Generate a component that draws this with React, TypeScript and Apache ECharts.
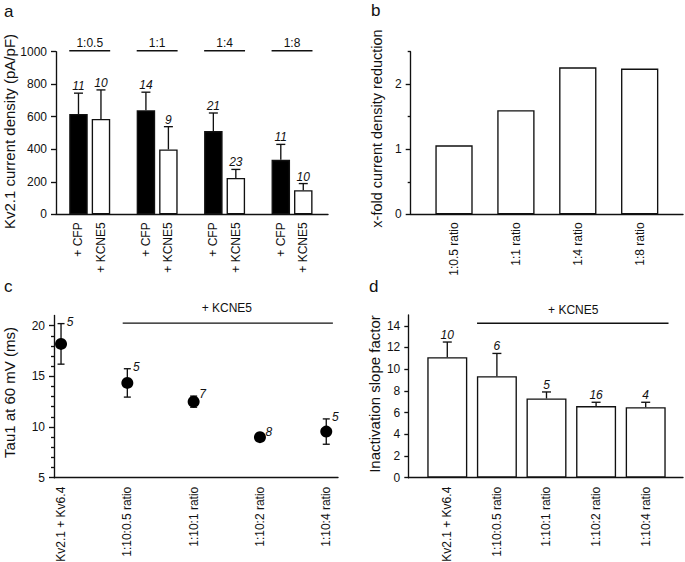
import React, { useEffect, useRef } from "react";
import * as echarts from "echarts";

// ---------- data ----------
// panel a
const groupLabels = ["1:0.5", "1:1", "1:4", "1:8"];
const conditionLabels = ["+ CFP", "+ KCNE5"];
const cfpMean = [617, 640, 512, 335];
const cfpSem = [128, 111, 111, 95];
const cfpN = [11, 14, 21, 11];
const kcneMean = [586, 399, 224, 148];
const kcneSem = [179, 140, 52, 41];
const kcneN = [10, 9, 23, 10];
const aTicks = [0, 200, 400, 600, 800, 1000];

// panel b
const ratioLabels = ["1:0.5 ratio", "1:1 ratio", "1:4 ratio", "1:8 ratio"];
const foldReduction = [1.06, 1.6, 2.26, 2.24];
const bTicks = [0, 1, 2];
const bMinorTicks = [0.5, 1.5, 2.5];

// panels c and d
const cdLabels = ["Kv2.1 + Kv6.4", "1:10:0.5 ratio", "1:10:1 ratio", "1:10:2 ratio", "1:10:4 ratio"];
const tauMean = [18.2, 14.35, 12.5, 9.0, 9.55];
const tauSem = [2.0, 1.4, 0.55, 0.3, 1.25];
const tauN = [5, 5, 7, 8, 5];
const cTicks = [5, 10, 15, 20];
const cMinorTicks = [6, 7, 8, 9, 11, 12, 13, 14, 16, 17, 18, 19];

const slopeMean = [11.1, 9.35, 7.3, 6.6, 6.5];
const slopeSem = [1.4, 2.1, 0.6, 0.35, 0.45];
const slopeN = [10, 6, 5, 16, 4];
const dTicks = [0, 2, 4, 6, 8, 10, 12, 14];

const annotationText = "+ KCNE5";

// ---------- styling ----------
const FONT = "'Liberation Sans', Arial, Helvetica, sans-serif";
const INK = "#111";
const LW = 1.35;

const lineStyle = { stroke: INK, lineWidth: LW };

function upErrorRenderer(capHalf: number) {
  return (params: any, api: any) => {
    const x = api.value(0);
    const y = api.value(1);
    const e = api.value(2);
    const n = api.value(3);
    const p0 = api.coord([x, y]);
    const p1 = api.coord([x, y + e]);
    return {
      type: "group",
      children: [
        { type: "line", shape: { x1: p0[0], y1: p0[1], x2: p1[0], y2: p1[1] }, style: lineStyle },
        { type: "line", shape: { x1: p1[0] - capHalf, y1: p1[1], x2: p1[0] + capHalf, y2: p1[1] }, style: lineStyle },
        {
          type: "text",
          x: p1[0],
          y: p1[1] - 1,
          style: {
            text: String(n),
            align: "center",
            verticalAlign: "bottom",
            fontSize: 12,
            fontStyle: "italic",
            fontFamily: FONT,
            fill: INK,
          },
        },
      ],
    };
  };
}

function bothErrorRenderer(capHalf: number) {
  return (params: any, api: any) => {
    const x = api.value(0);
    const y = api.value(1);
    const e = api.value(2);
    const n = api.value(3);
    const pLo = api.coord([x, y - e]);
    const pHi = api.coord([x, y + e]);
    return {
      type: "group",
      children: [
        { type: "line", shape: { x1: pLo[0], y1: pLo[1], x2: pHi[0], y2: pHi[1] }, style: lineStyle },
        { type: "line", shape: { x1: pHi[0] - capHalf, y1: pHi[1], x2: pHi[0] + capHalf, y2: pHi[1] }, style: lineStyle },
        { type: "line", shape: { x1: pLo[0] - capHalf, y1: pLo[1], x2: pLo[0] + capHalf, y2: pLo[1] }, style: lineStyle },
        {
          type: "text",
          x: pHi[0] + 9,
          y: pHi[1] - 2,
          style: {
            text: String(n),
            align: "center",
            verticalAlign: "middle",
            fontSize: 12,
            fontStyle: "italic",
            fontFamily: FONT,
            fill: INK,
          },
        },
      ],
    };
  };
}

function annotationRenderer(x1: number, x2: number, y: number, textX: number, textDy: number) {
  return (params: any, api: any) => {
    const a = api.coord([x1, y]);
    const b = api.coord([x2, y]);
    const t = api.coord([textX, y]);
    return {
      type: "group",
      children: [
        { type: "line", shape: { x1: a[0], y1: a[1], x2: b[0], y2: b[1] }, style: lineStyle },
        {
          type: "text",
          x: t[0],
          y: t[1] + textDy,
          style: {
            text: annotationText,
            align: "center",
            verticalAlign: "middle",
            fontSize: 12,
            fontFamily: FONT,
            fill: INK,
          },
        },
      ],
    };
  };
}

const yLabel = (margin: number) => ({
  color: INK,
  fontSize: 12,
  fontFamily: FONT,
  margin,
  formatter: (v: number) => String(v),
});
const axisLine = { show: true, onZero: false, lineStyle: { color: INK, width: LW } };
const noLine = { show: false, onZero: false };

function buildOption() {
  // panel a positions: pairs with an empty slot between groups
  const aCfpX = groupLabels.map((_, g) => 3 * g + 1);
  const aKcneX = groupLabels.map((_, g) => 3 * g + 2);
  const aBarData: any[] = [];
  groupLabels.forEach((_, g) => {
    aBarData.push({ value: [aCfpX[g], cfpMean[g]], itemStyle: { color: "#000", borderColor: INK } });
    aBarData.push({ value: [aKcneX[g], kcneMean[g]], itemStyle: { color: "#fff", borderColor: INK } });
  });
  const aErrData: any[] = [];
  groupLabels.forEach((_, g) => {
    aErrData.push([aCfpX[g], cfpMean[g], cfpSem[g], cfpN[g]]);
    aErrData.push([aKcneX[g], kcneMean[g], kcneSem[g], kcneN[g]]);
  });
  const aHalfBar = 0.41;
  const headerData = groupLabels.map((_, g) => [aCfpX[g] - aHalfBar, aKcneX[g] + aHalfBar, aTicks[aTicks.length - 1], g]);

  const bX = ratioLabels.map((_, i) => i + 1);
  const cdX = cdLabels.map((_, i) => i);

  const xBase = {
    type: "value",
    axisLine,
    axisTick: { show: false },
    splitLine: { show: false },
  };

  return {
    animation: false,
    backgroundColor: "#fff",
    textStyle: { fontFamily: FONT },
    grid: [
      { left: 56, top: 51.7, width: 272, height: 162.6, outerBoundsMode: "none" },
      { left: 410.7, top: 51.7, width: 272.3, height: 162.6, outerBoundsMode: "none" },
      { left: 54, top: 315.5, width: 284, height: 162.2, outerBoundsMode: "none" },
      { left: 408.3, top: 314.9, width: 274.7, height: 162.8, outerBoundsMode: "none" },
    ],
    xAxis: [
      {
        ...xBase,
        gridIndex: 0,
        min: 0,
        max: 12.1,
        axisLabel: {
          customValues: [...aCfpX, ...aKcneX],
          formatter: (v: number) => conditionLabels[(Math.round(v) - 1) % 3] ?? "",
          rotate: 90,
          margin: 8,
          color: INK,
          fontSize: 12,
          fontFamily: FONT,
        },
      },
      {
        ...xBase,
        gridIndex: 1,
        min: 0.3,
        max: 4.7,
        axisLabel: {
          customValues: bX,
          formatter: (v: number) => ratioLabels[Math.round(v) - 1] ?? "",
          rotate: 90,
          margin: 8,
          color: INK,
          fontSize: 12,
          fontFamily: "'Liberation Sans Narrow', " + FONT,
        },
      },
      {
        ...xBase,
        gridIndex: 2,
        min: -0.106,
        max: 4.177,
        axisLabel: {
          customValues: cdX,
          formatter: (v: number) => cdLabels[Math.round(v)] ?? "",
          rotate: 90,
          margin: 9,
          color: INK,
          fontSize: 12,
          fontFamily: FONT,
        },
      },
      {
        ...xBase,
        gridIndex: 3,
        min: -0.786,
        max: 4.752,
        axisLabel: {
          customValues: cdX,
          formatter: (v: number) => cdLabels[Math.round(v)] ?? "",
          rotate: 90,
          margin: 9,
          color: INK,
          fontSize: 12,
          fontFamily: FONT,
        },
      },
    ],
    yAxis: [
      {
        type: "value",
        gridIndex: 0,
        position: "left",
        min: 0,
        max: 1000,
        axisLine,
        axisTick: { show: true, customValues: aTicks, length: 5, lineStyle: { color: INK, width: LW } },
        axisLabel: { ...yLabel(9), customValues: aTicks },
        splitLine: { show: false },
      },
      {
        type: "value",
        gridIndex: 1,
        position: "left",
        min: 0,
        max: 2.5,
        axisLine,
        axisTick: { show: true, customValues: bTicks, length: 5, lineStyle: { color: INK, width: LW } },
        axisLabel: { ...yLabel(9), customValues: bTicks },
        splitLine: { show: false },
      },
      {
        type: "value",
        gridIndex: 1,
        position: "left",
        offset: 0,
        min: 0,
        max: 2.5,
        axisLine: noLine,
        axisTick: { show: true, customValues: bMinorTicks, length: 3, lineStyle: { color: INK, width: LW } },
        axisLabel: { show: false },
        splitLine: { show: false },
      },
      {
        type: "value",
        gridIndex: 2,
        position: "left",
        min: 5,
        max: 21,
        axisLine,
        axisTick: { show: true, customValues: cTicks, length: 5, lineStyle: { color: INK, width: LW } },
        axisLabel: { ...yLabel(9), customValues: cTicks },
        splitLine: { show: false },
      },
      {
        type: "value",
        gridIndex: 2,
        position: "left",
        offset: 0,
        min: 5,
        max: 21,
        axisLine: noLine,
        axisTick: { show: true, customValues: cMinorTicks, length: 3, lineStyle: { color: INK, width: LW } },
        axisLabel: { show: false },
        splitLine: { show: false },
      },
      {
        type: "value",
        gridIndex: 3,
        position: "left",
        min: 0,
        max: 15,
        axisLine,
        axisTick: { show: true, customValues: dTicks, length: 4, lineStyle: { color: INK, width: LW } },
        axisLabel: { ...yLabel(8), customValues: dTicks },
        splitLine: { show: false },
      },
    ],
    series: [
      // ---- panel a
      {
        type: "bar",
        xAxisIndex: 0,
        yAxisIndex: 0,
        barWidth: 18.5,
        itemStyle: { borderWidth: LW },
        data: aBarData,
        z: 2,
      },
      {
        type: "custom",
        xAxisIndex: 0,
        yAxisIndex: 0,
        renderItem: upErrorRenderer(4.5),
        data: aErrData,
        encode: { x: 0, y: 1 },
        clip: false,
        z: 3,
      },
      {
        type: "custom",
        xAxisIndex: 0,
        yAxisIndex: 0,
        renderItem: (params: any, api: any) => {
          const p1 = api.coord([api.value(0), api.value(2)]);
          const p2 = api.coord([api.value(1), api.value(2)]);
          const g = api.value(3);
          return {
            type: "group",
            children: [
              { type: "line", shape: { x1: p1[0], y1: p1[1] - 1, x2: p2[0], y2: p2[1] - 1 }, style: lineStyle },
              {
                type: "text",
                x: (p1[0] + p2[0]) / 2,
                y: p1[1] - 9,
                style: {
                  text: groupLabels[g],
                  align: "center",
                  verticalAlign: "middle",
                  fontSize: 12,
                  fontFamily: FONT,
                  fill: INK,
                },
              },
            ],
          };
        },
        data: headerData,
        encode: { x: 0, y: 2 },
        clip: false,
        z: 3,
      },
      // ---- panel b
      {
        type: "bar",
        xAxisIndex: 1,
        yAxisIndex: 1,
        barWidth: 37.3,
        itemStyle: { color: "#fff", borderColor: INK, borderWidth: LW },
        data: bX.map((x, i) => [x, foldReduction[i]]),
      },
      // ---- panel c
      {
        type: "custom",
        xAxisIndex: 2,
        yAxisIndex: 3,
        renderItem: bothErrorRenderer(3.5),
        data: cdX.map((x, i) => [x, tauMean[i], tauSem[i], tauN[i]]),
        encode: { x: 0, y: 1 },
        clip: false,
        z: 3,
      },
      {
        type: "scatter",
        xAxisIndex: 2,
        yAxisIndex: 3,
        symbol: "circle",
        symbolSize: 12,
        itemStyle: { color: "#000", opacity: 1 },
        data: cdX.map((x, i) => [x, tauMean[i]]),
        z: 4,
      },
      {
        type: "custom",
        xAxisIndex: 2,
        yAxisIndex: 3,
        renderItem: annotationRenderer(0.93, 4.1, 20.25, 2.5, -15),
        data: [[0.93, 20.25]],
        encode: { x: 0, y: 1 },
        clip: false,
      },
      // ---- panel d
      {
        type: "bar",
        xAxisIndex: 3,
        yAxisIndex: 5,
        barWidth: 40,
        itemStyle: { color: "#fff", borderColor: INK, borderWidth: LW },
        data: cdX.map((x, i) => [x, slopeMean[i]]),
      },
      {
        type: "custom",
        xAxisIndex: 3,
        yAxisIndex: 5,
        renderItem: upErrorRenderer(4.5),
        data: cdX.map((x, i) => [x, slopeMean[i], slopeSem[i], slopeN[i]]),
        encode: { x: 0, y: 1 },
        clip: false,
        z: 3,
      },
      {
        type: "custom",
        xAxisIndex: 3,
        yAxisIndex: 5,
        renderItem: annotationRenderer(0.6, 4.46, 14.23, 2.54, -13),
        data: [[0.6, 14.23]],
        encode: { x: 0, y: 1 },
        clip: false,
      },
    ],
    graphic: [
      // panel letters
      { type: "text", x: 4, y: 11.5, style: { text: "a", fontSize: 17, fontFamily: FONT, fill: INK, verticalAlign: "middle" } },
      { type: "text", x: 371, y: 10, style: { text: "b", fontSize: 17, fontFamily: FONT, fill: INK, verticalAlign: "middle" } },
      { type: "text", x: 4, y: 286.5, style: { text: "c", fontSize: 17, fontFamily: FONT, fill: INK, verticalAlign: "middle" } },
      { type: "text", x: 369, y: 286.5, style: { text: "d", fontSize: 17, fontFamily: FONT, fill: INK, verticalAlign: "middle" } },
      // axis titles
      {
        type: "text",
        x: 9,
        y: 131.5,
        rotation: Math.PI / 2,
        style: { text: "Kv2.1 current density (pA/pF)", fontSize: 15, fontFamily: FONT, fill: INK, align: "center", verticalAlign: "middle" },
      },
      {
        type: "text",
        x: 377,
        y: 128.5,
        rotation: Math.PI / 2,
        style: { text: "x-fold current density reduction", fontSize: 14.5, fontFamily: FONT, fill: INK, align: "center", verticalAlign: "middle" },
      },
      {
        type: "text",
        x: 9,
        y: 392.5,
        rotation: Math.PI / 2,
        style: { text: "Tau1 at 60 mV (ms)", fontSize: 15, fontFamily: FONT, fill: INK, align: "center", verticalAlign: "middle" },
      },
      {
        type: "text",
        x: 374,
        y: 394,
        rotation: Math.PI / 2,
        style: { text: "Inactivation slope factor", fontSize: 15, fontFamily: FONT, fill: INK, align: "center", verticalAlign: "middle" },
      },
    ],
  };
}

export default function App() {
  const ref = useRef<HTMLDivElement>(null);
  useEffect(() => {
    document.body.style.margin = "0";
    if (!ref.current) return;
    const chart = echarts.init(ref.current, null, { renderer: "svg" });
    chart.setOption(buildOption() as any);
    return () => chart.dispose();
  }, []);
  return <div ref={ref} style={{ width: 685, height: 562, background: "#fff" }} />;
}
